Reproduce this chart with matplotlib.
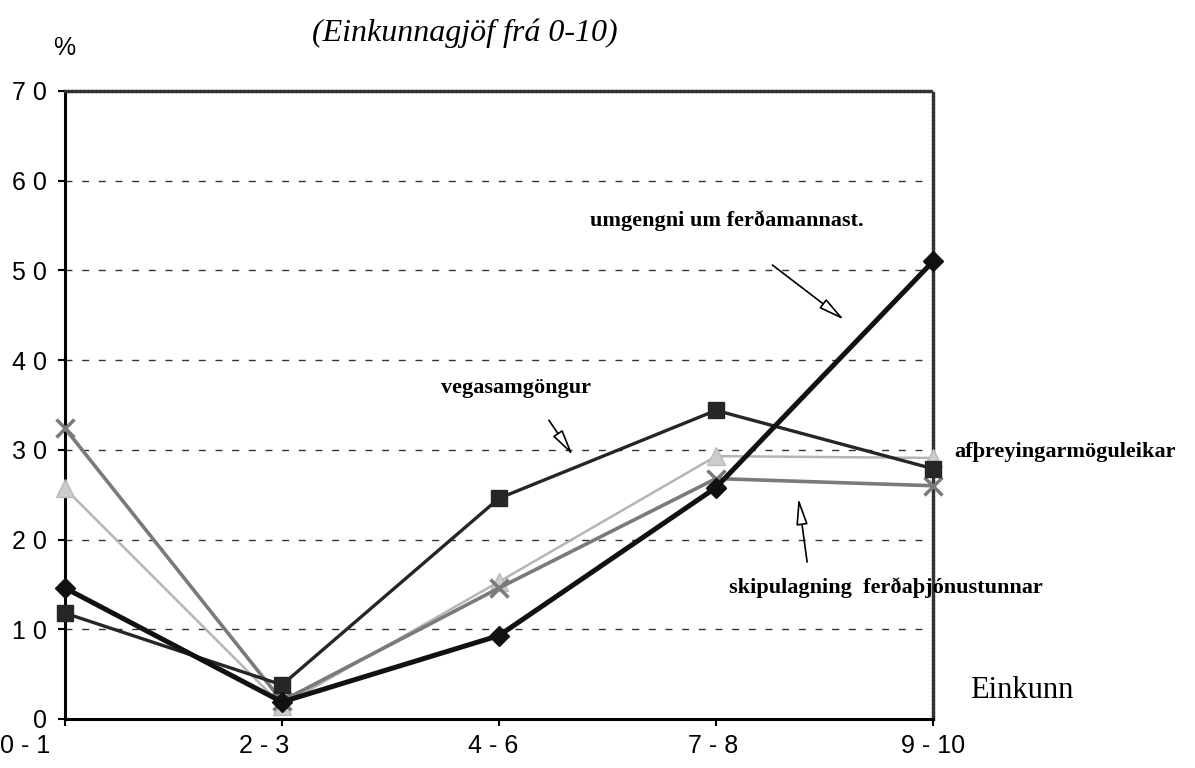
import matplotlib.pyplot as plt
import matplotlib.transforms as mtransforms
import numpy as np

# Einkunnagjöf frá 0-10, hlutfall svara (%)
flokkar = ['0-1', '2-3', '4-6', '7-8', '9-10']
umgengni = [14.6, 1.9, 9.3, 25.8, 51.0]
vegasamgongur = [11.8, 3.8, 24.6, 34.4, 27.9]
afthreying = [25.7, 1.5, 15.3, 29.3, 29.1]
skipulagning = [32.4, 2.0, 14.6, 26.8, 26.0]
y_ticks = [0, 10, 20, 30, 40, 50, 60, 70]

sans = 'Liberation Sans'
serif = 'Liberation Serif'

fig = plt.figure(figsize=(11.95, 7.68), dpi=100)
ax = fig.add_axes([65 / 1195, 49 / 768, 868 / 1195, 628 / 768])
x = np.arange(len(flokkar))

# dashed grid lines
for v in y_ticks[1:-1]:
    ax.axhline(v, color='#333333', lw=1.0, ls=(0, (5, 7)), zorder=1)

ax.plot(x, afthreying, color='#b5b5b5', lw=1.8, marker='^', ms=13,
        mfc='#cccccc', mec='#bbbbbb', clip_on=False, zorder=3)
ax.plot(x, skipulagning, color='#7a7a7a', lw=2.6, marker='x', ms=13,
        mew=2.5, clip_on=False, zorder=4)
ax.plot(x, vegasamgongur, color='#262626', lw=2.4, marker='s', ms=11,
        clip_on=False, zorder=5)
ax.plot(x, umgengni, color='#111111', lw=3.6, marker='D', ms=10,
        clip_on=False, zorder=6)

ax.set_xlim(0, 4)
ax.set_ylim(0, 70)
ax.set_xticks(x)
ax.set_xticklabels([' - '.join(f.split('-')) for f in flokkar],
                   fontsize=18, family=sans)
ax.set_yticks(y_ticks)
ax.set_yticklabels([' '.join(str(v)) if v else '0' for v in y_ticks],
                   fontsize=18, family=sans)
ax.tick_params(axis='both', direction='out', length=5, width=1.5)
ax.tick_params(axis='x', pad=6)
ax.tick_params(axis='y', pad=8)

# shift the x labels a little to the left, as in the original print
shifts = [-40, -18, -6, -3, 0]
for lab, dx in zip(ax.get_xticklabels(), shifts):
    lab.set_transform(lab.get_transform() +
                      mtransforms.ScaledTranslation(dx / 100, 0, fig.dpi_scale_trans))

for s in ['left', 'bottom']:
    ax.spines[s].set_linewidth(2.2)
for s in ['top', 'right']:
    ax.spines[s].set_linestyle((0, (0.6, 0.6)))
    ax.spines[s].set_linewidth(2.4)
    ax.spines[s].set_color('#333333')

arrow = dict(arrowstyle='-|>,head_length=1.6,head_width=0.35', color='black',
             lw=1.2, fc='white', shrinkA=0, shrinkB=0)

ax.text(3.05, 55.6, 'umgengni um ferðamannast.', family=serif,
        fontsize=16, fontweight='bold', ha='center', va='center')
ax.annotate('', xy=(3.59, 44.5), xytext=(3.26, 50.6), arrowprops=arrow)

ax.text(2.08, 36.9, 'vegasamgöngur', family=serif, fontsize=16,
        fontweight='bold', ha='center', va='center')
ax.annotate('', xy=(2.34, 29.4), xytext=(2.23, 33.3), arrowprops=arrow)

ax.text(4.1, 29.8, 'afþreyingarmöguleikar', family=serif, fontsize=16,
        fontweight='bold', ha='left', va='center', clip_on=False)

ax.text(3.06, 14.7, 'skipulagning  ferðaþjónustunnar', family=serif,
        fontsize=16, fontweight='bold', ha='left', va='center', clip_on=False)
ax.annotate('', xy=(3.38, 24.6), xytext=(3.42, 17.5), arrowprops=arrow)

ax.text(4.17, 3.2, 'Einkunn', family=serif, fontsize=22, ha='left',
        va='center', clip_on=False)

fig.text(465 / 1195, 1 - 33 / 768, '(Einkunnagjöf frá 0-10)', family=serif,
         style='italic', fontsize=23, ha='center', va='center')
fig.text(64 / 1195, 1 - 48 / 768, '%', family=sans, fontsize=18,
         ha='center', va='center')

fig.savefig('out.png', dpi=100)
